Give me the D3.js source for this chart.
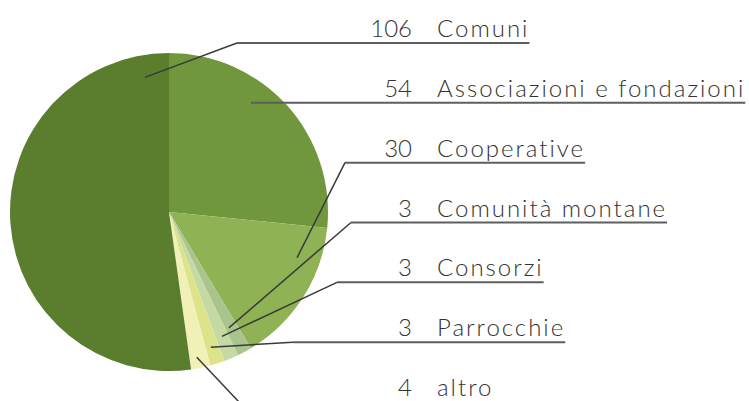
<!DOCTYPE html>
<html>
<head>
<meta charset="utf-8">
<script src="https://cdn.jsdelivr.net/npm/d3@7"></script>
<style>
  body { margin: 0; background: #fff; }
  svg { display: block; }
</style>
</head>
<body>
<div id="chart"></div>
<script>
// slices, clockwise from 12 o'clock
const labels = ["Associazioni e fondazioni", "Cooperative", "Comunità montane", "Consorzi", "Parrocchie", "altro", "Comuni"];
const values = [54, 30, 3, 3, 3, 4, 106];
const colors = ["#71973d", "#8fb254", "#abc48e", "#c4daa2", "#dde38a", "#f1f0b6", "#5a7e2e"];

// order of the label rows on the right (top to bottom)
const rowOrder = ["Comuni", "Associazioni e fondazioni", "Cooperative", "Comunità montane", "Consorzi", "Parrocchie", "altro"];

// where each leader line touches its slice: [fraction across slice, fraction of radius]
const anchorPos = {
  "Comuni": [0.946, 0.86],
  "Associazioni e fondazioni": [0.385, 0.86],
  "Cooperative": [0.26, 0.855],
  "Comunità montane": [0.7, 0.82],
  "Consorzi": [0.5, 0.85],
  "Parrocchie": [0.6, 0.89],
  "altro": [0.6, 0.93]
};
// x of the elbow where the leader meets the underline (null = straight)
const elbowX = {
  "Comuni": 237,
  "Associazioni e fondazioni": null,
  "Cooperative": 345,
  "Comunità montane": 351,
  "Consorzi": 337,
  "Parrocchie": 293,
  "altro": 239
};

const width = 749, height = 401;
const cx = 169, cy = 212, radius = 159;

const svg = d3.select("#chart")
  .append("svg")
  .attr("width", width)
  .attr("height", height);

const data = labels.map((l, i) => ({ label: l, value: values[i], color: colors[i] }));

const pie = d3.pie()
  .sort(null)
  .value(d => d.value);

const arc = d3.arc()
  .innerRadius(0)
  .outerRadius(radius);

const arcs = pie(data);

const g = svg.append("g")
  .attr("transform", `translate(${cx},${cy})`);

g.selectAll("path.slice")
  .data(arcs)
  .enter().append("path")
  .attr("class", "slice")
  .attr("d", arc)
  .attr("fill", d => d.data.color);

// label rows
const rowY = d3.scaleLinear()
  .domain([0, rowOrder.length - 1])
  .range([43, 402]);

const numX = 412, nameX = 437;
const font = "Lato, 'Open Sans', sans-serif";

const rows = svg.append("g");

rowOrder.forEach((name, i) => {
  const a = arcs.find(d => d.data.label === name);
  const y = rowY(i);

  rows.append("text")
    .attr("x", numX)
    .attr("y", y - 6)
    .attr("text-anchor", "end")
    .style("font-family", font)
    .style("font-weight", 300)
    .style("font-size", "24px")
    .attr("fill", "#333")
    .text(a.data.value);

  const t = rows.append("text")
    .attr("x", nameX)
    .attr("y", y - 6)
    .style("font-family", font)
    .style("font-weight", 300)
    .style("font-size", "24px")
    .style("letter-spacing", "2px")
    .attr("fill", "#333")
    .text(name);

  const textEnd = nameX + t.node().getComputedTextLength();

  // anchor point inside the slice
  const p = anchorPos[name];
  const ang = a.startAngle + (a.endAngle - a.startAngle) * p[0];
  const r = radius * p[1];
  const ax = cx + r * Math.sin(ang);
  const ay = cy - r * Math.cos(ang);

  const ex = elbowX[name];

  // leader (dark) part
  if (ex !== null) {
    rows.append("line")
      .attr("x1", ax).attr("y1", ay)
      .attr("x2", ex).attr("y2", y)
      .attr("stroke", "#3a3a3a")
      .attr("stroke-width", 1.5);
  }
  rows.append("line")
    .attr("x1", ex === null ? ax : ex).attr("y1", y)
    .attr("x2", Math.min(textEnd, width - 1)).attr("y2", y)
    .attr("stroke", "#5e5e5e")
    .attr("stroke-width", 2);
});
</script>
</body>
</html>
